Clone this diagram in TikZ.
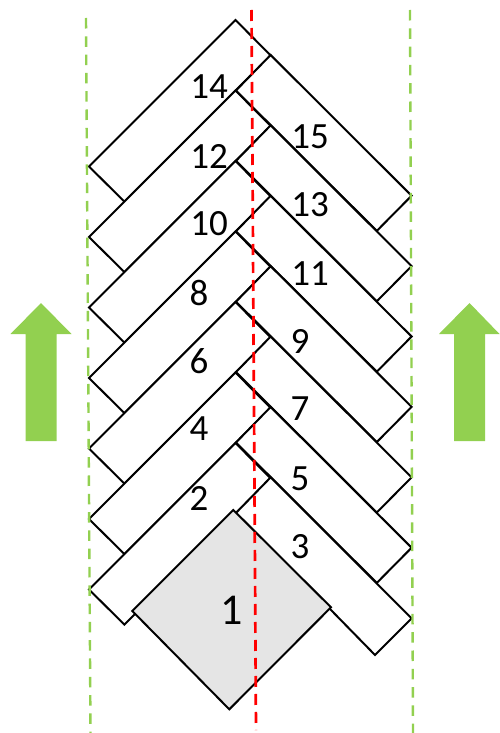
\documentclass[tikz,border=0pt]{standalone}
\usepackage{fontspec}
\setmainfont{Carlito}
\definecolor{arrowgreen}{HTML}{92D050}
\tikzset{
  plank/.style={draw=black,line width=2pt,fill=white,line join=miter},
  tile/.style={draw=black,line width=2pt,fill=black!10!white,line join=miter},
  lab/.style={font=\fontsize{37}{37}\selectfont,text=black,inner sep=0pt,anchor=center},
  redline/.style={draw=red,line width=2.7pt,dash pattern=on 11pt off 7pt},
  greenline/.style={draw=arrowgreen,line width=2.4pt,dash pattern=on 10.5pt off 7.8pt},
  bigarrow/.style={fill=arrowgreen,draw=none}
}
\begin{document}
\begin{tikzpicture}[x=1pt,y=-1pt]
\useasboundingbox (0,0) rectangle (499,733);
% left planks
\foreach \yy in {0,70.5,141,211.5,282,352.5,423}{
  \draw[plank] (235.5,20+\yy) -- (89,166.5+\yy) -- (124.4,201.6+\yy) -- (270.6,55.4+\yy) -- cycle;
}
% right planks
\foreach \yy in {0,70.4,140.8,211.2,281.6,352}{
  \draw[plank] (270.6,55+\yy) -- (411.6,195.7+\yy) -- (376.8,230.9+\yy) -- (236,90.5+\yy) -- cycle;
}
\draw[plank] (270.6,477.4) -- (411.6,618.3) -- (375,655) -- (236,512.9) -- cycle;
% guide lines
\coordinate (ga) at (86,18);
\coordinate (gb) at (90.5,733);
\coordinate (gc) at (410,10);
\coordinate (gd) at (413,733);
\coordinate (ra) at (251.5,10);
\coordinate (rb) at (256,730);
\draw[tile] (233.3,510) -- (331,607.3) -- (229.3,709.3) -- (132.3,611) -- cycle;
\draw[greenline] (ga) -- (gb);
\draw[greenline] (gc) -- (gd);
\draw[redline] (ra) -- (rb);
% arrows
\fill[bigarrow] (25.7,441) -- (25.7,334) -- (10.5,334) -- (41,303) -- (71.5,334) -- (56.5,334) -- (56.5,441) -- cycle;
\fill[bigarrow] (454,441) -- (454,334) -- (439,334) -- (469.5,303) -- (499.5,334) -- (485,334) -- (485,441) -- cycle;
% labels
\node[lab] (n14) at (209,87) {14};
\node[lab] (n15) at (310,137) {15};
\node[lab] (n12) at (209,156) {12};
\node[lab] (n13) at (310,205) {13};
\node[lab] (n10) at (209,224) {10};
\node[lab] (n11) at (310,274) {11};
\node[lab] (n8) at (199,293) {8};
\node[lab] (n9) at (300,341) {9};
\node[lab] (n6) at (199,361) {6};
\node[lab] (n7) at (300,409) {7};
\node[lab] (n4) at (199,429) {4};
\node[lab] (n5) at (300,479) {5};
\node[lab] (n2) at (199,498) {2};
\node[lab] (n3) at (300,547) {3};
\node[lab,font=\fontsize{44}{44}\selectfont] (n1) at (232,610) {1};
\end{tikzpicture}
\end{document}
